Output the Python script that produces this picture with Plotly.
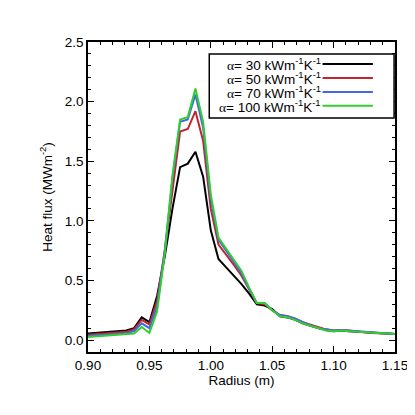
import plotly.graph_objects as go

# radius grid (m)
radius = [0.900, 0.90625, 0.9125, 0.91875, 0.925, 0.93125, 0.9375, 0.94375,
          0.950, 0.95625, 0.9625, 0.96875, 0.975, 0.98125, 0.9875, 0.99375,
          1.000, 1.00625, 1.0125, 1.01875, 1.025, 1.03125, 1.0375, 1.04375,
          1.050, 1.05625, 1.0625, 1.06875, 1.075, 1.08125, 1.0875, 1.09375,
          1.100, 1.10625, 1.1125, 1.11875, 1.125, 1.13125, 1.1375, 1.14375, 1.150]

# heat flux (MW/m2) for each alpha
flux_30 = [0.055, 0.060, 0.065, 0.068, 0.072, 0.080, 0.100, 0.190, 0.150, 0.370,
           0.700, 1.100, 1.450, 1.480, 1.580, 1.370, 0.920, 0.680, 0.610, 0.540,
           0.470, 0.390, 0.300, 0.290, 0.260, 0.200, 0.190, 0.170, 0.140, 0.120,
           0.100, 0.085, 0.075, 0.080, 0.075, 0.070, 0.065, 0.060, 0.055, 0.055, 0.050]
flux_50 = [0.045, 0.050, 0.055, 0.058, 0.062, 0.070, 0.090, 0.170, 0.130, 0.330,
           0.750, 1.250, 1.750, 1.770, 1.920, 1.670, 1.100, 0.800, 0.720, 0.630,
           0.540, 0.420, 0.310, 0.300, 0.250, 0.210, 0.200, 0.180, 0.150, 0.130,
           0.110, 0.090, 0.080, 0.085, 0.080, 0.070, 0.065, 0.060, 0.055, 0.055, 0.050]
flux_70 = [0.035, 0.040, 0.045, 0.048, 0.052, 0.058, 0.075, 0.140, 0.100, 0.280,
           0.750, 1.350, 1.830, 1.850, 2.060, 1.780, 1.180, 0.840, 0.750, 0.660,
           0.560, 0.430, 0.310, 0.310, 0.250, 0.210, 0.200, 0.180, 0.150, 0.120,
           0.100, 0.090, 0.080, 0.085, 0.080, 0.070, 0.065, 0.060, 0.055, 0.055, 0.050]
flux_100 = [0.025, 0.030, 0.033, 0.036, 0.040, 0.045, 0.055, 0.110, 0.060, 0.240,
            0.720, 1.380, 1.850, 1.870, 2.110, 1.830, 1.220, 0.860, 0.770, 0.680,
            0.580, 0.440, 0.310, 0.310, 0.250, 0.200, 0.190, 0.170, 0.140, 0.120,
            0.100, 0.080, 0.075, 0.080, 0.075, 0.070, 0.065, 0.060, 0.055, 0.055, 0.050]

alphas = ["30", "50", "70", "100"]
series = [flux_30, flux_50, flux_70, flux_100]
colors = ["#000000", "#c0262c", "#4169e1", "#33cc33"]

fig = go.Figure()
for a, y, c in zip(alphas, series, colors):
    fig.add_trace(go.Scatter(x=radius, y=y, mode="lines", name=a,
                             line=dict(color=c, width=2), showlegend=False))

font = dict(family="Liberation Sans, Arial, sans-serif", size=13.5, color="black")
legend_font = dict(family="Liberation Sans, Arial, sans-serif", size=13.5, color="black")

axis_common = dict(showline=True, linecolor="black", linewidth=1.5, mirror="ticks",
                   ticks="inside", ticklen=6, tickwidth=1.2, tickcolor="black",
                   showgrid=False, zeroline=False, tickfont=font)

fig.update_xaxes(range=[0.90, 1.15], dtick=0.05, tickformat=".2f",
                 minor=dict(dtick=0.01, ticks="inside", ticklen=3, tickcolor="black"),
                 title=dict(text="Radius (m)", font=font, standoff=3), **axis_common)
fig.update_yaxes(range=[-0.1, 2.5], dtick=0.5, tickformat=".1f",
                 minor=dict(dtick=0.1, ticks="inside", ticklen=3, tickcolor="black"),
                 title=dict(text="Heat flux (MWm<sup>-2</sup>)", font=font, standoff=9),
                 **axis_common)

# legend box (text on left, line sample on right)
fig.add_shape(type="rect", xref="paper", yref="paper", x0=0.395, x1=0.997,
              y0=0.755, y1=0.961, line=dict(color="black", width=1.5),
              fillcolor="white", layer="above")
ys = [0.929, 0.884, 0.839, 0.794]
for a, c, yy in zip(alphas, colors, ys):
    fig.add_annotation(xref="paper", yref="paper", x=0.764, y=yy, xanchor="right",
                       yanchor="middle", showarrow=False, font=legend_font,
                       text='<span style="font-family:Liberation Serif">α</span>= ' + a
                            + " kWm<sup>-1</sup>K<sup>-1</sup>")
    fig.add_shape(type="line", xref="paper", yref="paper", x0=0.764, x1=0.928,
                  y0=yy, y1=yy, line=dict(color=c, width=2), layer="above")

# page body adds an 8px offset, so the figure is 407 wide/high
fig.update_layout(width=407, height=407,
                  margin=dict(l=79.5, r=20, t=34, b=63, autoexpand=False),
                  paper_bgcolor="white", plot_bgcolor="white", font=font)

fig.write_html("out.html")
